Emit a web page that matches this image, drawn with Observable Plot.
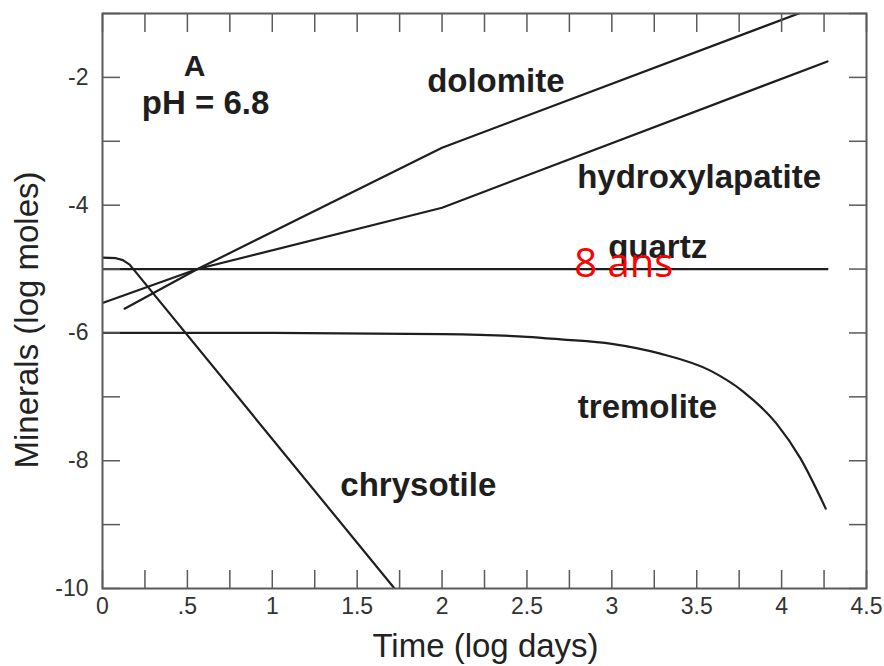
<!DOCTYPE html>
<html>
<head>
<meta charset="utf-8">
<script src="https://cdn.jsdelivr.net/npm/d3@7"></script>
<script src="https://cdn.jsdelivr.net/npm/@observablehq/plot@0.6"></script>
<style>
  html, body { margin: 0; padding: 0; background: #fff; }
  #chart { width: 884px; height: 666px; }
</style>
</head>
<body>
<div id="chart"></div>
<script>
// ---- data ----
const dolomiteX = [0.13, 0.56, 2.0, 4.3];
const dolomiteY = [-5.62, -5.0, -3.1, -0.8];

const hydroxylapatiteX = [0.0, 0.56, 2.0, 4.27];
const hydroxylapatiteY = [-5.53, -5.0, -4.04, -1.75];

const quartzX = [0.0, 4.27];
const quartzY = [-5.0, -5.0];

const tremoliteX = [0.0, 1.0, 2.0, 2.5, 2.7, 3.0, 3.28, 3.58, 3.77, 3.97, 4.11, 4.26];
const tremoliteY = [-6.0, -6.0, -6.02, -6.06, -6.1, -6.17, -6.32, -6.59, -6.91, -7.42, -7.96, -8.75];

const chrysotileX = [0.0, 0.08, 0.12, 0.16, 1.72];
const chrysotileY = [-4.82, -4.83, -4.86, -4.93, -10.0];

// tick values and labels
const xMinorTicks = [0, 0.25, 0.5, 0.75, 1, 1.25, 1.5, 1.75, 2, 2.25, 2.5, 2.75, 3, 3.25, 3.5, 3.75, 4, 4.25, 4.5];
const xTickValues = [0, 0.5, 1, 1.5, 2, 2.5, 3, 3.5, 4, 4.5];
const xTickLabels = ["0", ".5", "1", "1.5", "2", "2.5", "3", "3.5", "4", "4.5"];
const yMinorTicks = [-10, -9, -8, -7, -6, -5, -4, -3, -2, -1];
const yTickValues = [-10, -8, -6, -4, -2];
const yTickLabels = ["-10", "-8", "-6", "-4", "-2"];

// curve labels
const labelText = ["dolomite", "hydroxylapatite", "quartz", "tremolite", "chrysotile", "pH = 6.8"];
const labelX = [2.317, 3.514, 3.27, 3.21, 1.86, 0.607];
const labelY = [-2.07, -3.56, -4.66, -7.16, -8.39, -2.415];

const panelText = ["A"];
const panelX = [0.542];
const panelY = [-1.83];

const noteText = ["8 ans"];
const noteX = [3.07];
const noteY = [-4.92];

const xTitle = "Time (log days)";
const yTitle = "Minerals (log moles)";

// ---- chart ----
const xLab = new Map(xTickValues.map((v, i) => [v, xTickLabels[i]]));
const yLab = new Map(yTickValues.map((v, i) => [v, yTickLabels[i]]));
const ink = "#1e1e1e";
const frameCol = "#5a5a5a";

const series = [
  [dolomiteX, dolomiteY, "linear"],
  [hydroxylapatiteX, hydroxylapatiteY, "linear"],
  [quartzX, quartzY, "linear"],
  [tremoliteX, tremoliteY, "monotone-x"],
  [chrysotileX, chrysotileY, "linear"]
];

const chart = Plot.plot({
  width: 884,
  height: 666,
  marginLeft: 102,
  marginRight: 18,
  marginTop: 13,
  marginBottom: 78,
  x: {domain: [0, 4.5]},
  y: {domain: [-10, -1]},
  style: {fontFamily: "'Liberation Sans', Arial, sans-serif", background: "#fff", color: ink},
  marks: [
    ...series.map(([xs, ys, curve]) =>
      Plot.line(ys, {x: xs, y: ys, curve, stroke: ink, strokeWidth: 2.2, clip: true})
    ),
    Plot.frame({stroke: frameCol, strokeWidth: 2}),
    Plot.axisX(xMinorTicks, {anchor: "bottom", tickSize: -18, tickFormat: () => "", stroke: frameCol, strokeWidth: 1.5, label: null}),
    Plot.axisX(xMinorTicks, {anchor: "top", tickSize: -18, tickFormat: () => "", stroke: frameCol, strokeWidth: 1.5, label: null}),
    Plot.axisX(xTickValues, {anchor: "bottom", tickSize: 0, tickPadding: 9, tickFormat: d => xLab.get(d), fontSize: 23, fill: "#333", label: null}),
    Plot.axisY(yMinorTicks, {anchor: "left", tickSize: -18, tickFormat: () => "", stroke: frameCol, strokeWidth: 1.5, label: null}),
    Plot.axisY(yMinorTicks, {anchor: "right", tickSize: -18, tickFormat: () => "", stroke: frameCol, strokeWidth: 1.5, label: null}),
    Plot.axisY(yTickValues, {anchor: "left", tickSize: 0, tickPadding: 14, tickFormat: d => yLab.get(d), fontSize: 23, fill: "#333", label: null}),
    Plot.text(labelText, {x: labelX, y: labelY, text: d => d, fontSize: 33, fontWeight: "bold", fill: ink}),
    Plot.text(panelText, {x: panelX, y: panelY, text: d => d, fontSize: 30, fontWeight: "bold", fill: ink}),
    Plot.text(noteText, {x: noteX, y: noteY, text: d => d, fontSize: 40, fontFamily: "'Open Sans', sans-serif", fill: "#ff0000"}),
    Plot.text([xTitle], {frameAnchor: "bottom", textAnchor: "middle", lineAnchor: "middle", dy: 58, dx: 1, text: d => d, fontSize: 33, fill: "#222"}),
    Plot.text([yTitle], {frameAnchor: "left", textAnchor: "middle", lineAnchor: "middle", rotate: -90, dx: -75, dy: 19, text: d => d, fontSize: 33, fill: "#222"})
  ]
});

document.getElementById("chart").appendChild(chart);
</script>
</body>
</html>
